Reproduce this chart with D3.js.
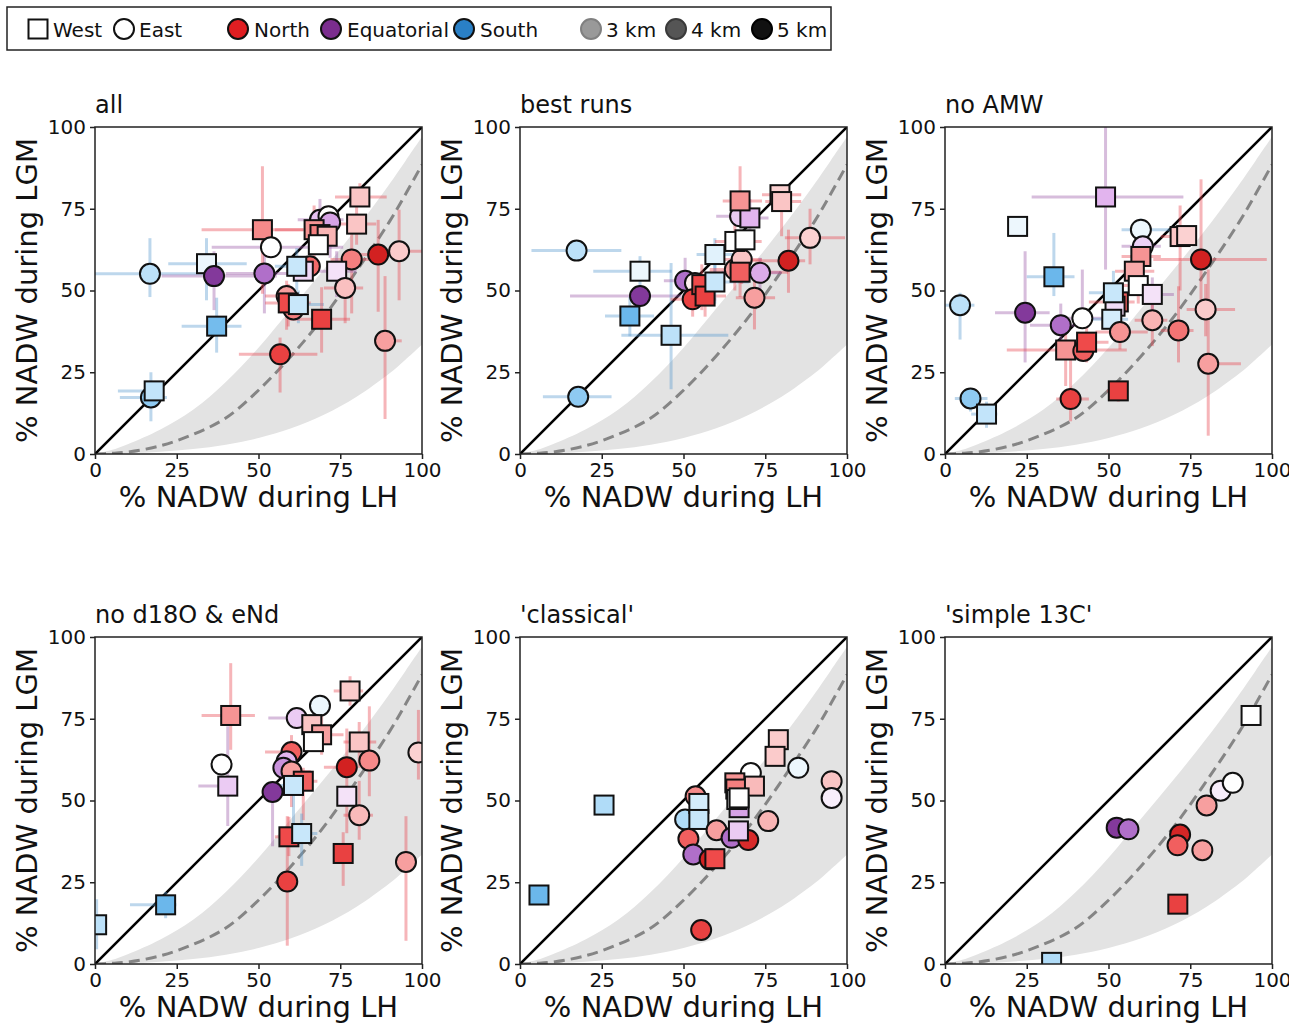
<!DOCTYPE html>
<html>
<head>
<meta charset="utf-8">
<script src="https://cdn.jsdelivr.net/npm/d3@7"></script>
<style>
  body { margin: 0; background: #fff; }
  text { font-family: "DejaVu Sans", sans-serif; fill: #111; }
</style>
</head>
<body>
<svg id="chart" width="1289" height="1025"></svg>
<script>
// ---- data ----
const PANEL_TITLES = ["all", "best runs", "no AMW", "no d18O & eNd", "'classical'", "'simple 13C'"];
const AXIS_TICKS = [0, 25, 50, 75, 100];

// reference band / curve, sampled at REF_X (% NADW during LH)
const REF_X = [0, 5, 10, 20, 30, 40, 50, 60, 70, 80, 90, 95, 100];
const BAND_UPPER = [0, 1.2, 3, 7.5, 13.5, 22, 32.5, 44.5, 56.5, 69, 82.5, 89.7, 97];
const BAND_LOWER = [0, 0.1, 0.24, 0.72, 1.55, 2.86, 4.88, 7.86, 12, 17.5, 24.6, 28.9, 33.5];
const DASHED_CURVE = [0, 0.2, 0.6, 2.5, 6, 11, 19.5, 30, 42, 56, 71, 79.5, 88.5];

// point rows: [side (W square / E circle), region (N/E/S), depth km, LH, LGM, LHlo, LHhi, LGMlo, LGMhi]
const POINTS_ALL = [
  ["E","S",2.6, 16.8,55.1, 0,34, 48,66],
  ["E","S",3.2, 17.1,17.3, 7.6,22, 10,25],
  ["W","S",2.5, 18.1,19.3, 7,21, 16,22],
  ["W","S",3.5, 37.2,39.1, 26.5,44.8, 31,47.8],
  ["W","S",1.8, 34.1,58.2, 22.4,46.4, 47,66],
  ["E","E",4.6, 36.4,54.4, 20.4,55.6, 44,62],
  ["E","E",3.6, 51.8,55.2, 40,62, 43,68.6],
  ["W","N",3.2, 51.2,68.6, 32.6,63.7, 49,88],
  ["E","E",1.5, 53.8,63.2, 35.7,75.9, null,null],
  ["E","E",2.6, 68.8,71.6, 62,76, 64,78],
  ["E","S",1.5, 71.4,72.7, null,null, null,null],
  ["E","E",3.0, 71.9,70.8, 66,74, 60,76],
  ["W","N",3.1, 67,68.6, 55,72, 60,76],
  ["W","N",3.3, 68.8,67.1, null,null, null,null],
  ["W","N",2.8, 71,66.6, null,null, null,null],
  ["W","N",1.5, 68.3,64, null,null, null,null],
  ["W","N",2.5, 81,78.6, 73.4,89.2, 75.7,82.8],
  ["W","N",2.5, 80,70.3, 75,86, 64,78],
  ["E","N",4.7, 86.6,61, 79,95, 43.5,71.6],
  ["E","N",2.4, 93,62, 87,100, 47,74.7],
  ["E","N",3.3, 78.5,59.5, 72,85, 43,68.6],
  ["W","E",2.0, 73.9,55.9, 66,80, 48,62],
  ["E","N",2.6, 76.5,50.8, 70,82, 40,55],
  ["E","N",3.5, 65.7,57.4, null,null, null,null],
  ["W","E",2.2, 63.7,55.9, null,null, null,null],
  ["W","S",2.4, 61.7,57.4, 55,68, 50,63],
  ["E","N",3.0, 58.6,48.3, 52,64, 38,53],
  ["E","N",3.3, 60.7,44.2, null,null, null,null],
  ["W","N",3.8, 59.1,46.2, 52,66, 39,52],
  ["W","S",2.4, 62.2,45.7, 57,70, 40,50],
  ["W","N",4.0, 69.3,41.2, 59.6,78, 31,51],
  ["E","N",4.0, 56.6,30.5, 44,68, 18.8,35.6],
  ["E","N",3.0, 88.7,34.6, 85.6,93.8, 10.7,54.4],
];

const POINTS_BEST = [
  ["E","S",2.6, 17.3,62.2, 3.5,31, null,null],
  ["E","S",3.2, 17.8,17.5, 7,28, null,null],
  ["W","S",1.8, 36.7,55.9, 22.4,46.4, 51.3,60.5],
  ["E","E",4.6, 36.7,48.3, 15.3,49.4, null,null],
  ["W","S",3.6, 33.6,42.2, 26,41, 36,48],
  ["W","S",2.6, 46.2,36.3, 31,63.7, 19.8,58.4],
  ["E","E",3.6, 50.5,53, 44,58, 46,60],
  ["E","N",1.8, 53.5,52.3, null,null, null,null],
  ["E","N",4.0, 52.8,47.3, 46,60, 42,55],
  ["W","N",3.8, 55.6,51.8, 50,62, 44,58],
  ["W","N",4.0, 56.6,48.3, 50,63, 42,54],
  ["W","S",2.4, 59.6,52.6, 50,70, 46,58],
  ["W","S",2.0, 59.6,61, 54,66, 55,66],
  ["E","N",3.0, 65.7,56.4, 58,72, 50,63],
  ["E","N",2.5, 67.8,59.5, 62,74, 52,66],
  ["W","N",3.6, 67.3,55.6, 58,82, 48,63],
  ["W","N",1.5, 65.7,65, 59.6,73.9, 58,70],
  ["W","N",1.5, 68.8,65.5, null,null, null,null],
  ["E","E",2.4, 67.3,72.7, 60,72, null,null],
  ["W","E",2.8, 70.3,72.2, 64,76, 66,78],
  ["W","N",3.1, 67.3,77.4, 62,74, 70,88],
  ["E","E",2.9, 73.4,55.4, 61.7,80, 50,60],
  ["E","N",3.0, 71.7,47.8, 66,78, 38.1,54.4],
  ["E","N",4.7, 82.1,59.1, 69.8,87.2, 49.3,68.6],
  ["E","N",2.3, 88.7,66.1, 81,99.4, 58,75],
  ["W","N",2.3, 79.5,79.3, 74,86, 74,82],
  ["W","N",2.5, 80,77.2, 75,86, 66.6,81.8],
];

const POINTS_NO_AMW = [
  ["E","S",2.6, 4.6,45.5, 0,9, 35,49.3],
  ["E","S",3.2, 7.8,17, 3,13, 13,20],
  ["W","S",2.5, 12.7,12.2, 8,16, 8,16],
  ["W","S",1.8, 22.2,69.6, null,null, null,null],
  ["W","S",3.6, 33.3,54.2, 25,39.6, 48.3,67.6],
  ["E","E",4.6, 24.5,43.2, 15.3,32, 28,62],
  ["E","E",3.6, 35.4,39.4, 26,44, 34,46],
  ["E","E",1.5, 42,41.5, 36,52, 41.2,56.4],
  ["W","N",3.1, 36.9,31.8, 18.9,55.6, 20.8,41.2],
  ["E","N",3.6, 42.3,31.5, null,null, null,null],
  ["W","N",3.8, 43.3,34.2, 36,50, 28,40],
  ["E","N",4.0, 38.4,16.8, 34,44, 10,32],
  ["W","E",2.8, 49.1,78.6, 26.5,72.9, 56.4,100],
  ["W","N",3.6, 53,46.5, 44,58, 40,50],
  ["W","E",2.1, 52,45.2, null,null, null,null],
  ["W","S",2.4, 51.5,49.3, 44,56, 42,56],
  ["W","S",2.2, 51,41.2, 45,56, 36,46],
  ["E","N",3.1, 53.5,37.3, 46,62, 32,42],
  ["W","N",4.0, 53,19.3, 49.5,56, 16,22],
  ["E","S",1.8, 59.9,68.6, 54,71.9, 64,72],
  ["E","E",2.3, 60.5,63.5, 54,66, 58,68],
  ["W","N",3.1, 59.9,60.4, 54,66, 54,66],
  ["W","N",2.9, 57.9,55.9, 52,64, 50,62],
  ["W","N",1.5, 59.1,51.5, 53,66, 46,56],
  ["W","E",2.0, 63.4,48.8, 58,70, 44,54],
  ["E","N",2.8, 63.4,40.9, 58,68, 33,48],
  ["W","N",2.5, 71.9,66.5, 66,76, 50,76],
  ["W","N",2.3, 73.9,66.8, null,null, null,null],
  ["E","N",4.7, 78.3,59.5, 63.7,98.4, 44,84],
  ["E","N",3.4, 71.4,37.8, 66,76, 28,51.3],
  ["E","N",2.4, 79.7,44.2, 73.9,88.7, 36,52],
  ["E","N",3.0, 80.5,27.6, 79,90.5, 5.6,56.4],
];

const POINTS_NO_D18O = [
  ["W","S",2.6, 0.5,12, null,null, 4.5,19.8],
  ["W","S",3.6, 21.6,18.1, 10.7,24.9, 14,22],
  ["E","N",1.5, 38.7,61, null,null, null,null],
  ["W","E",2.4, 40.6,54.4, 31.6,41.3, 42.2,72.7],
  ["W","N",3.1, 41.5,76, 32.6,48.9, 65.5,92],
  ["E","E",4.6, 54.3,52.6, null,null, 36,52],
  ["E","E",2.4, 61.7,75.2, 53,63.5, null,null],
  ["E","S",1.8, 68.8,79, null,null, null,null],
  ["W","N",2.5, 66.3,73.2, null,null, null,null],
  ["W","N",3.0, 69.3,70.1, 64,76, 64,76],
  ["W","N",1.5, 66.8,68, null,null, null,null],
  ["E","N",3.6, 60.1,64.8, 52,62, 58,70],
  ["E","E",2.8, 58.6,62, null,null, null,null],
  ["E","E",3.2, 57.6,60, null,null, null,null],
  ["E","N",3.0, 60.1,58.9, 55,66, 48,64],
  ["W","N",3.6, 63.7,55.9, 58,68, 44,60],
  ["W","S",2.4, 60.7,54.6, 56,66, 36,58],
  ["W","N",3.8, 59.3,38.9, 55,63, 33,45],
  ["W","S",2.4, 63.2,39.9, 58,68, 30,46],
  ["E","N",4.0, 58.8,25.2, null,null, 5.6,45.2],
  ["W","N",2.4, 78,83.5, 73,82, 79,88],
  ["W","N",2.5, 80.8,67.9, 76,86, 60,74],
  ["E","N",4.7, 77,60.2, 70,80, 40,72],
  ["E","N",3.2, 83.9,62.2, null,null, 51.3,78.8],
  ["W","E",2.0, 77,51.3, null,null, null,null],
  ["E","N",2.7, 80.8,45.5, 76,85, 38,56],
  ["W","N",4.0, 75.9,33.8, null,null, 23.9,40.3],
  ["E","N",3.0, 95.1,31.2, null,null, 7.1,45.2],
  ["E","N",2.3, 98.9,64.7, null,null, 56.4,77.7],
];

const POINTS_CLASSICAL = [
  ["W","S",3.6, 5.8,21.1],
  ["W","S",2.8, 25.7,48.6],
  ["E","S",2.8, 50.5,44.2],
  ["E","N",3.2, 53.7,51.3],
  ["W","S",2.2, 54.7,49.1],
  ["W","S",2.4, 54.7,44.2],
  ["E","N",3.6, 51.5,38.3],
  ["E","E",3.6, 53,33.5],
  ["E","N",4.7, 58,32],
  ["W","N",3.8, 59.6,32.2],
  ["E","N",3.0, 60.1,40.9],
  ["E","E",3.6, 64.7,38.6],
  ["E","N",4.5, 69.8,37.9],
  ["W","E",2.4, 66.8,40.7],
  ["E","N",1.5, 70.6,58.4],
  ["W","N",3.1, 65.7,55.4],
  ["W","N",3.3, 66,53.5],
  ["W","N",2.7, 71.7,54.4],
  ["W","E",3.0, 67,47.8],
  ["W","S",1.5, 66.3,50.3],
  ["W","N",1.5, 67,50.8],
  ["E","N",2.8, 75.9,43.7],
  ["W","N",2.4, 79,68.6],
  ["W","N",2.4, 78,63.5],
  ["E","S",1.8, 85.1,60],
  ["E","N",2.5, 95.3,55.9],
  ["E","E",1.8, 95.3,50.8],
  ["E","N",4.0, 55.4,10.4],
];

const POINTS_SIMPLE_13C = [
  ["W","S",2.8, 32.6,0.5],
  ["E","E",4.6, 52.5,41.7],
  ["E","E",3.6, 56.1,41.2],
  ["E","N",4.6, 71.9,39.6],
  ["E","N",3.6, 71.1,36.3],
  ["E","N",3.0, 78.7,34.8],
  ["E","N",3.0, 80,48.5],
  ["E","E",1.8, 84.3,53],
  ["E","N",1.5, 88,55.4],
  ["W","N",1.5, 93.6,76],
  ["W","N",4.0, 71.2,18.3],
];

const PANEL_POINTS = [POINTS_ALL, POINTS_BEST, POINTS_NO_AMW, POINTS_NO_D18O, POINTS_CLASSICAL, POINTS_SIMPLE_13C];

const LEGEND_SIDES = [{ label: "West", shape: "W" }, { label: "East", shape: "E" }];
const LEGEND_REGIONS = [
  { label: "North", key: "N" },
  { label: "Equatorial", key: "E" },
  { label: "South", key: "S" },
];
const LEGEND_DEPTHS = ["3 km", "4 km", "5 km"];

// ---- styles ----
const DEPTH_STOPS = [1.5, 2.8, 3.8, 5];
const REGION_RAMPS = {
  N: ["#ffffff", "#f9b4b4", "#ef4a4a", "#c81414"],
  E: ["#ffffff", "#e2b4ee", "#a45ec0", "#732788"],
  S: ["#ffffff", "#b0dcf8", "#5aaee8", "#2c7cc4"],
};
const REGION_LEGEND = { N: "#e01e22", E: "#7b2d8e", S: "#2a80c6" };
const DEPTH_LEGEND = { fill: ["#999999", "#555555", "#111111"], stroke: ["#808080", "#3a3a3a", "#000000"] };
const ERRBAR_COLORS = { N: "#e8474f", E: "#9a5aa8", S: "#5b9bd0" };

const PLOT_SIZE = 327;
const PANEL_LEFT = [95, 520, 945];
const PANEL_TOP = [127, 637];
const CIRCLE_R = 10;
const SQUARE_SIDE = 19;

const fillScales = {};
Object.entries(REGION_RAMPS).forEach(([key, ramp]) => {
  fillScales[key] = d3.scaleLinear().domain(DEPTH_STOPS).range(ramp).clamp(true);
});

const svg = d3.select("#chart");
const x = d3.scaleLinear().domain([0, 100]).range([0, PLOT_SIZE]);
const y = d3.scaleLinear().domain([0, 100]).range([PLOT_SIZE, 0]);

const refData = REF_X.map((lh, i) => ({ lh, upper: BAND_UPPER[i], lower: BAND_LOWER[i], mid: DASHED_CURVE[i] }));
const smooth = d3.curveCatmullRom.alpha(0.5);

function toPoint(row) {
  const [side, region, depth, lh, lgm, xlo = null, xhi = null, ylo = null, yhi = null] = row;
  return { side, region, depth, lh, lgm, xlo, xhi, ylo, yhi };
}

function drawMarker(sel, shape, cx, cy, fill, stroke, strokeWidth) {
  if (shape === "W") {
    sel.append("rect")
      .attr("x", cx - SQUARE_SIDE / 2).attr("y", cy - SQUARE_SIDE / 2)
      .attr("width", SQUARE_SIDE).attr("height", SQUARE_SIDE)
      .attr("fill", fill).attr("stroke", stroke).attr("stroke-width", strokeWidth);
  } else {
    sel.append("circle")
      .attr("cx", cx).attr("cy", cy).attr("r", CIRCLE_R)
      .attr("fill", fill).attr("stroke", stroke).attr("stroke-width", strokeWidth);
  }
}

PANEL_TITLES.forEach((title, i) => {
  const left = PANEL_LEFT[i % 3];
  const top = PANEL_TOP[Math.floor(i / 3)];
  const g = svg.append("g").attr("transform", `translate(${left},${top})`);
  const clipId = `clip-${i}`;
  g.append("clipPath").attr("id", clipId)
    .append("rect").attr("width", PLOT_SIZE).attr("height", PLOT_SIZE);

  const plot = g.append("g").attr("clip-path", `url(#${clipId})`);

  plot.append("path")
    .datum(refData)
    .attr("fill", "#e3e3e3")
    .attr("d", d3.area().curve(smooth)
      .x((d) => x(d.lh)).y0((d) => y(d.lower)).y1((d) => y(d.upper)));

  plot.append("path")
    .datum(refData)
    .attr("fill", "none")
    .attr("stroke", "#858585")
    .attr("stroke-width", 3)
    .attr("stroke-dasharray", "11 6")
    .attr("d", d3.line().curve(smooth).x((d) => x(d.lh)).y((d) => y(d.mid)));

  plot.append("line")
    .attr("x1", x(0)).attr("y1", y(0)).attr("x2", x(100)).attr("y2", y(100))
    .attr("stroke", "#000").attr("stroke-width", 2.6);

  const points = PANEL_POINTS[i].map(toPoint);

  const bars = plot.append("g").attr("stroke-width", 3).attr("stroke-opacity", 0.4);
  points.forEach((p) => {
    const color = ERRBAR_COLORS[p.region];
    if (p.xlo != null) {
      bars.append("line")
        .attr("x1", x(p.xlo)).attr("x2", x(p.xhi)).attr("y1", y(p.lgm)).attr("y2", y(p.lgm))
        .attr("stroke", color);
    }
    if (p.ylo != null) {
      bars.append("line")
        .attr("x1", x(p.lh)).attr("x2", x(p.lh)).attr("y1", y(p.ylo)).attr("y2", y(p.yhi))
        .attr("stroke", color);
    }
  });

  const marks = plot.append("g");
  points.forEach((p) => {
    drawMarker(marks, p.side, x(p.lh), y(p.lgm), fillScales[p.region](p.depth), "#111", 2);
  });

  g.append("rect")
    .attr("width", PLOT_SIZE).attr("height", PLOT_SIZE)
    .attr("fill", "none").attr("stroke", "#222").attr("stroke-width", 1.5);

  const xAxis = g.append("g")
    .attr("transform", `translate(0,${PLOT_SIZE})`)
    .call(d3.axisBottom(x).tickValues(AXIS_TICKS).tickSize(5).tickPadding(4));
  const yAxis = g.append("g")
    .call(d3.axisLeft(y).tickValues(AXIS_TICKS).tickSize(5).tickPadding(4));
  [xAxis, yAxis].forEach((ax) => {
    ax.select(".domain").remove();
    ax.selectAll(".tick line").attr("stroke", "#222").attr("stroke-width", 1.5);
    ax.selectAll(".tick text")
      .attr("font-family", "DejaVu Sans, sans-serif")
      .attr("font-size", 20).attr("fill", "#111");
  });

  g.append("text")
    .attr("x", 0).attr("y", -14)
    .attr("font-size", 24)
    .text(title);

  g.append("text")
    .attr("x", PLOT_SIZE / 2).attr("y", PLOT_SIZE + 53)
    .attr("text-anchor", "middle")
    .attr("font-size", 29)
    .text("% NADW during LH");

  g.append("text")
    .attr("transform", `translate(-58,${PLOT_SIZE / 2}) rotate(-90)`)
    .attr("text-anchor", "middle")
    .attr("font-size", 29)
    .text("% NADW during LGM");
});

// ---- legend ----
const legend = svg.append("g");
legend.append("rect")
  .attr("x", 7).attr("y", 7).attr("width", 824).attr("height", 43)
  .attr("fill", "#fff").attr("stroke", "#222").attr("stroke-width", 1.5);

const legendY = 29;
const baseline = 37;
const sideX = [38, 124];
LEGEND_SIDES.forEach((d, i) => {
  drawMarker(legend, d.shape, sideX[i], legendY, "#fff", "#111", 2);
  legend.append("text").attr("x", sideX[i] + 15).attr("y", baseline).attr("font-size", 20).text(d.label);
});
const regionX = [238, 331, 464];
LEGEND_REGIONS.forEach((d, i) => {
  drawMarker(legend, "E", regionX[i], legendY, REGION_LEGEND[d.key], "#111", 2);
  legend.append("text").attr("x", regionX[i] + 16).attr("y", baseline).attr("font-size", 20).text(d.label);
});
const depthX = [591, 676, 762];
LEGEND_DEPTHS.forEach((label, i) => {
  drawMarker(legend, "E", depthX[i], legendY, DEPTH_LEGEND.fill[i], DEPTH_LEGEND.stroke[i], 2);
  legend.append("text").attr("x", depthX[i] + 15).attr("y", baseline).attr("font-size", 20).text(label);
});
</script>
</body>
</html>
